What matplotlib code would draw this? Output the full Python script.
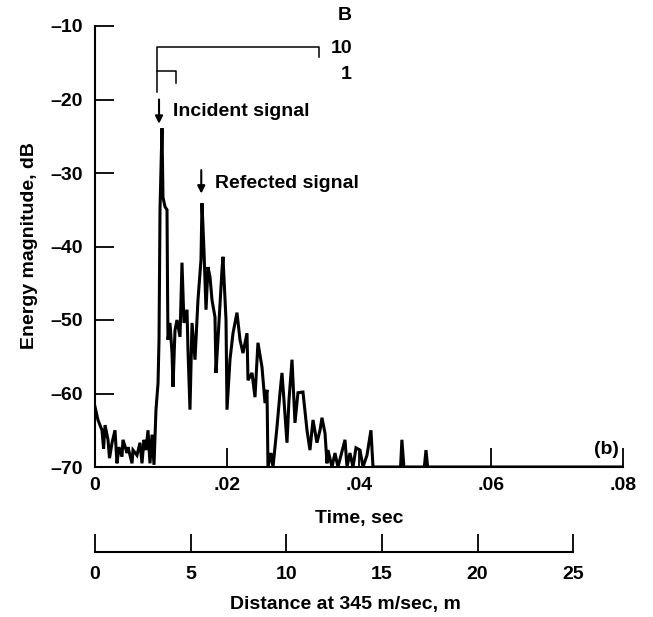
import numpy as np
import matplotlib
matplotlib.use("Agg")
import matplotlib.pyplot as plt

# energy trace (time in ms, level in dB)
time_ms = [0, 0.45, 1.06, 1.30, 1.52, 1.97, 2.20, 2.58, 3.03, 3.33, 3.64, 4.09, 4.24, 4.85, 5.00,
           5.61, 5.76, 6.36, 6.82, 7.12, 7.42, 7.73, 8.03, 8.33, 8.64, 8.94, 9.24,
           9.55, 9.70, 9.85, 10.15, 10.30, 10.61, 10.91, 11.00, 11.06, 11.36, 11.67,
           11.82, 12.12, 12.42, 12.88, 13.18, 13.48, 13.94, 14.09, 14.39, 14.70,
           15.15, 15.60, 16.06, 16.21, 16.51, 16.82, 17.12, 17.42, 17.73, 18.18,
           18.33, 18.63, 19.24, 19.39, 19.85, 20.00, 20.45, 20.91, 21.51, 21.97,
           22.42, 23.03, 23.18, 23.79, 24.24, 24.69, 25.30, 25.76, 26.06, 26.21,
           26.66, 26.97, 27.57, 28.03, 28.33, 28.63, 29.09, 29.39, 29.85, 30.30,
           30.75, 31.51, 32.12, 32.57, 33.03, 33.63, 34.09, 34.39, 34.85, 35.15,
           35.30, 35.91, 36.36, 36.81, 37.88, 38.18, 38.63, 39.09, 39.54, 40.15,
           40.60, 41.21, 41.81, 42.12, 46.30, 46.50, 46.80, 49.90, 50.15, 50.40, 80.0]
energy_db = [-61.8, -63.6, -65.0, -67.5, -64.3, -66.3, -68.8, -66.7, -65.0, -69.5, -67.3, -68.6, -66.3, -68.1, -67.3,
             -69.5, -67.7, -68.4, -66.7, -69.5, -66.3, -67.7, -65.0, -69.5, -65.6, -69.7, -62.2,
             -58.6, -52.7, -35.0, -23.9, -33.3, -34.6, -35.0, -46.9, -52.7, -50.4, -54.5,
             -59.1, -51.4, -50.0, -52.3, -42.2, -50.4, -48.6, -54.1, -62.2, -50.4,
             -55.4, -47.3, -41.8, -34.1, -40.5, -48.6, -42.8, -44.1, -47.3, -49.6,
             -57.2, -52.7, -43.2, -41.4, -50.0, -62.2, -55.4, -51.8, -49.0, -52.7,
             -54.5, -51.8, -58.2, -57.2, -60.5, -53.1, -56.4, -61.3, -59.5, -70.0,
             -68.1, -70.0, -64.6, -59.9, -57.2, -60.9, -66.7, -60.9, -55.4, -64.0,
             -59.9, -59.8, -65.0, -67.7, -63.6, -66.7, -65.0, -63.3, -65.4, -69.5,
             -67.7, -70.0, -68.1, -70.0, -66.3, -70.0, -68.1, -70.0, -67.4, -67.7,
             -70.0, -68.4, -65.0, -70.0, -70.0, -66.3, -70.0, -70.0, -67.7, -70.0, -70.0]

time_ticks = [0, 0.02, 0.04, 0.06, 0.08]
time_labels = ["0", ".02", ".04", ".06", ".08"]
db_ticks = [-10, -20, -30, -40, -50, -60, -70]
db_labels = ["\u201310", "\u201320", "\u201330", "\u201340", "\u201350", "\u201360", "\u201370"]
dist_ticks = [0, 5, 10, 15, 20, 25]
speed = 345.0

plt.rcParams["font.family"] = ["Liberation Sans", "DejaVu Sans"]
plt.rcParams["font.weight"] = "bold"
fs = 14

W, H = 653, 617
fig = plt.figure(figsize=(W / 100, H / 100), dpi=100)

# main axes (pixel box 95..623 x 26..467)
ax = fig.add_axes([95 / W, (H - 467) / H, 528 / W, 441 / H])
t = np.array(time_ms) / 1000.0
ax.plot(t, energy_db, color="black", lw=2.2, solid_joinstyle="miter")

ax.set_xlim(0, 0.08)
ax.set_ylim(-70, -10)
for s in ["top", "right"]:
    ax.spines[s].set_visible(False)
for s in ["left", "bottom"]:
    ax.spines[s].set_linewidth(1.5)
ax.set_xticks(time_ticks)
ax.set_xticklabels(time_labels, fontsize=fs, fontweight="bold")
ax.set_yticks(db_ticks)
ax.set_yticklabels(db_labels, fontsize=fs, fontweight="bold")
ax.tick_params(axis="x", direction="in", length=14, width=1.3, pad=7)
ax.tick_params(axis="y", direction="in", length=14, width=1.3, pad=9)

# bracket marks (B = 10 and B = 1)
ax.plot([0.00939, 0.00939, 0.0339, 0.0339], [-19.0, -12.86, -12.86, -14.2],
        color="black", lw=1.1, clip_on=False)
ax.plot([0.00939, 0.01227, 0.01227], [-16.1, -16.1, -17.8],
        color="black", lw=1.1, clip_on=False)
ax.text(0.0379, -8.6, "B", fontsize=fs, fontweight="bold", ha="center", va="center")
ax.text(0.0357, -13.0, "10", fontsize=fs, fontweight="bold", ha="left", va="center")
ax.text(0.0389, -16.6, "1", fontsize=fs, fontweight="bold", ha="right", va="center")

# arrows with labels
arrow = dict(arrowstyle="-|>", color="black", lw=1.5, mutation_scale=11,
             shrinkA=0, shrinkB=0)
ax.annotate("", xy=(0.0097, -23.3), xytext=(0.0097, -20.0), arrowprops=arrow)
ax.text(0.0118, -21.7, "Incident signal", fontsize=fs, fontweight="bold",
        ha="left", va="center")
ax.annotate("", xy=(0.0161, -32.8), xytext=(0.0161, -29.6), arrowprops=arrow)
ax.text(0.0182, -31.4, "Refected signal", fontsize=fs, fontweight="bold",
        ha="left", va="center")
ax.text(0.0775, -67.6, "(b)", fontsize=fs, fontweight="bold", ha="center", va="center")

# distance scale underneath
ax2 = fig.add_axes([95 / W, (H - 552) / H, 528 / W, 0.05])
ax2.set_xlim(0, 0.08 * speed)
ax2.set_ylim(0, 1)
for s in ["top", "right", "left"]:
    ax2.spines[s].set_visible(False)
ax2.spines["bottom"].set_linewidth(1.5)
ax2.spines["bottom"].set_bounds(0, 25)
ax2.set_yticks([])
ax2.set_xticks(dist_ticks)
ax2.set_xticklabels([str(d) for d in dist_ticks], fontsize=fs, fontweight="bold")
ax2.tick_params(axis="x", direction="in", length=13, width=1.3, pad=10)
ax2.patch.set_visible(False)

fig.text(359 / W, 1 - 519 / H, "Time, sec", fontsize=fs, fontweight="bold",
         ha="center", va="center")
fig.text(345 / W, 1 - 604 / H, "Distance at 345 m/sec, m", fontsize=fs,
         fontweight="bold", ha="center", va="center")
fig.text(30 / W, 1 - 246 / H, "Energy magnitude, dB", fontsize=fs, fontweight="bold",
         ha="center", va="center", rotation=90)

fig.savefig("out.png", dpi=100)
